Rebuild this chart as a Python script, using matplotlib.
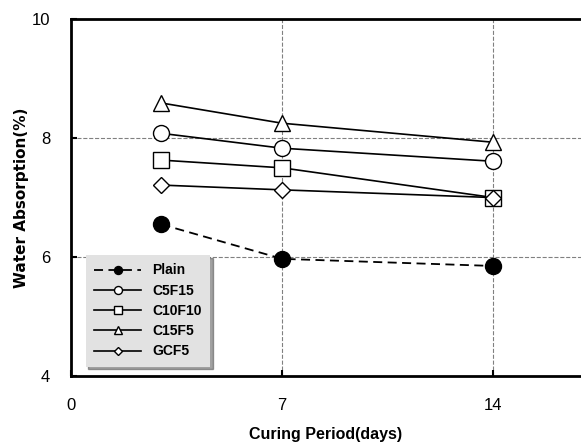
import numpy as np
import matplotlib.pyplot as plt

# curing days and water absorption (%)
days = [3, 7, 14]
plain = [6.55, 5.97, 5.85]
c5f15 = [8.08, 7.83, 7.61]
c10f10 = [7.63, 7.50, 7.00]
c15f5 = [8.59, 8.25, 7.93]
gcf5 = [7.21, 7.13, 7.00]

plt.rcParams['font.family'] = ['Liberation Sans Narrow', 'Liberation Sans', 'DejaVu Sans']

fig = plt.figure(figsize=(5.81, 4.45), dpi=100)
ax = fig.add_axes([0.122, 0.155, 0.878, 0.802])

ms = 11.5
ax.plot(days, plain, 'k--', marker='o', ms=ms, mfc='black', lw=1.3, dashes=(5, 3), label='Plain')
ax.plot(days, c5f15, 'k-', marker='o', ms=ms, mfc='white', lw=1.2, label='C5F15')
ax.plot(days, c10f10, 'k-', marker='s', ms=ms, mfc='white', lw=1.2, label='C10F10')
ax.plot(days, c15f5, 'k-', marker='^', ms=ms, mfc='white', lw=1.2, label='C15F5')
ax.plot(days, gcf5, 'k-', marker='D', ms=ms*0.75, mfc='white', lw=1.2, label='GCF5')

ax.set_xlim(0, 16.9)
ax.set_ylim(4, 10)
ax.set_xticks([0, 7, 14])
ax.set_yticks([4, 6, 8, 10])
ax.tick_params(direction='in', labelsize=12, length=4, width=1.5)
ax.tick_params(axis='x', pad=16)
ax.tick_params(axis='y', pad=15)
ax.grid(True, ls='--', color='gray', lw=0.8)

for s in ['left', 'bottom', 'top']:
    ax.spines[s].set_linewidth(2)
ax.spines['right'].set_visible(False)

ax.set_xlabel('Curing Period(days)', fontsize=11.5, fontweight='bold', labelpad=10)
ax.set_ylabel('Water Absorption(%)', fontsize=11, fontweight='bold', labelpad=2,
              family='DejaVu Sans')

leg = ax.legend(loc='upper left', bbox_to_anchor=(0.029, 0.339), borderaxespad=0,
                markerscale=0.5, fontsize=10, shadow=True, fancybox=False,
                facecolor='#e2e2e2', edgecolor='none', framealpha=1,
                handlelength=3.4, labelspacing=0.45, borderpad=0.6)
for t in leg.get_texts():
    t.set_fontweight('bold')

fig.savefig('out.png', dpi=100)
